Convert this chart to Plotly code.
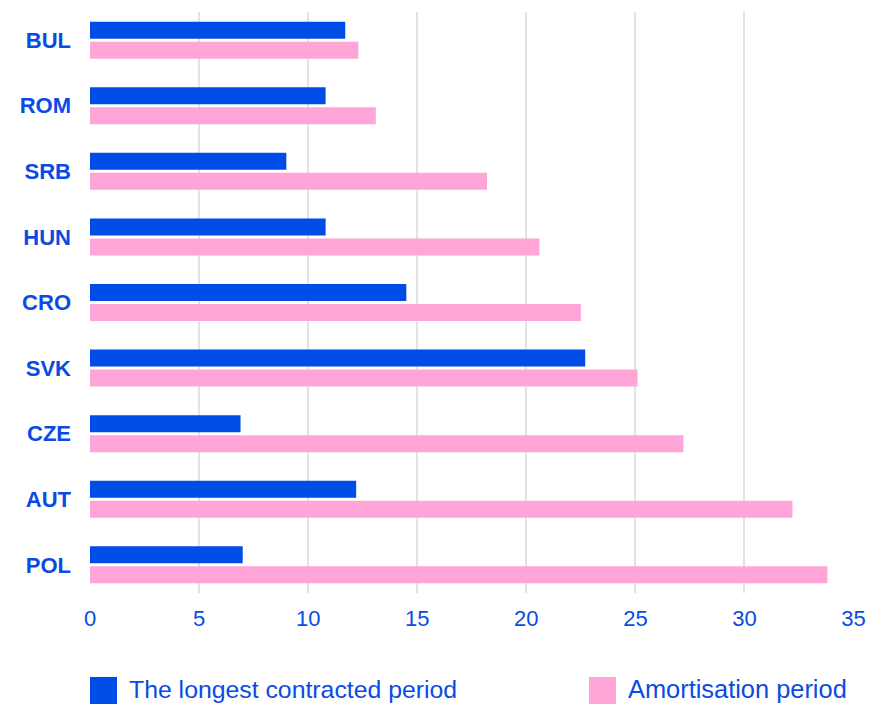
import plotly.graph_objects as go

# Countries, listed top to bottom
countries = ["BUL", "ROM", "SRB", "HUN", "CRO", "SVK", "CZE", "AUT", "POL"]
# Years
longest_contracted = [11.7, 10.8, 9.0, 10.8, 14.5, 22.7, 6.9, 12.2, 7.0]
amortisation = [12.3, 13.1, 18.2, 20.6, 22.5, 25.1, 27.2, 32.2, 33.8]
series_names = ["The longest contracted period", "Amortisation period"]
x_ticks = [0, 5, 10, 15, 20, 25, 30, 35]

BLUE = "#004CE6"
PINK = "#FFA5D7"
TEXT = "#0A4BE3"
FONT = "Liberation Sans, Arial, sans-serif"

W, H = 872, 704
M_L, M_R, M_T, M_B = 90, 18, 12, 111
plot_w = W - M_L - M_R
plot_h = H - M_T - M_B

fig = go.Figure()
fig.add_trace(go.Bar(y=countries, x=longest_contracted, name=series_names[0],
                     orientation="h", marker=dict(color=BLUE, line=dict(width=0))))
fig.add_trace(go.Bar(y=countries, x=amortisation, name=series_names[1],
                     orientation="h", marker=dict(color=PINK, line=dict(width=0))))


def px_x(px):
    return (px - M_L) / plot_w


def px_y(py):
    return (H - M_B - py) / plot_h


# Legend drawn as coloured squares with labels below the axis
shapes = []
annotations = []
legend_items = [(90, series_names[0], BLUE, 24.8), (589, series_names[1], PINK, 25.4)]
for left, label, color, size in legend_items:
    shapes.append(dict(type="rect", xref="paper", yref="paper",
                       x0=px_x(left), x1=px_x(left + 27),
                       y0=px_y(704), y1=px_y(677),
                       fillcolor=color, line=dict(width=0)))
    annotations.append(dict(xref="paper", yref="paper", x=px_x(left + 37), y=px_y(689),
                            xanchor="left", yanchor="middle", showarrow=False,
                            text=label, font=dict(family=FONT, size=size, color=TEXT)))

fig.update_layout(
    width=W, height=H,
    margin=dict(l=M_L, r=M_R, t=M_T, b=M_B),
    paper_bgcolor="white", plot_bgcolor="white",
    barmode="group", bargap=0.39, bargroupgap=0.15,
    showlegend=False,
    shapes=shapes, annotations=annotations,
    xaxis=dict(range=[0, 35.02], tickvals=x_ticks, showgrid=True, automargin=False,
               gridcolor="#E3E3E3", gridwidth=1.5, zeroline=False,
               showline=False, ticks="", ticklabelstandoff=10,
               tickfont=dict(family=FONT, size=22, color=TEXT)),
    yaxis=dict(autorange=False, range=[8.43, -0.43], categoryorder="array",
               categoryarray=countries, showgrid=False, zeroline=False, automargin=False,
               showline=False, ticks="", ticklabelstandoff=18,
               tickfont=dict(family=FONT, size=22, color=TEXT, weight="bold")),
)

fig.write_html("out.html")
